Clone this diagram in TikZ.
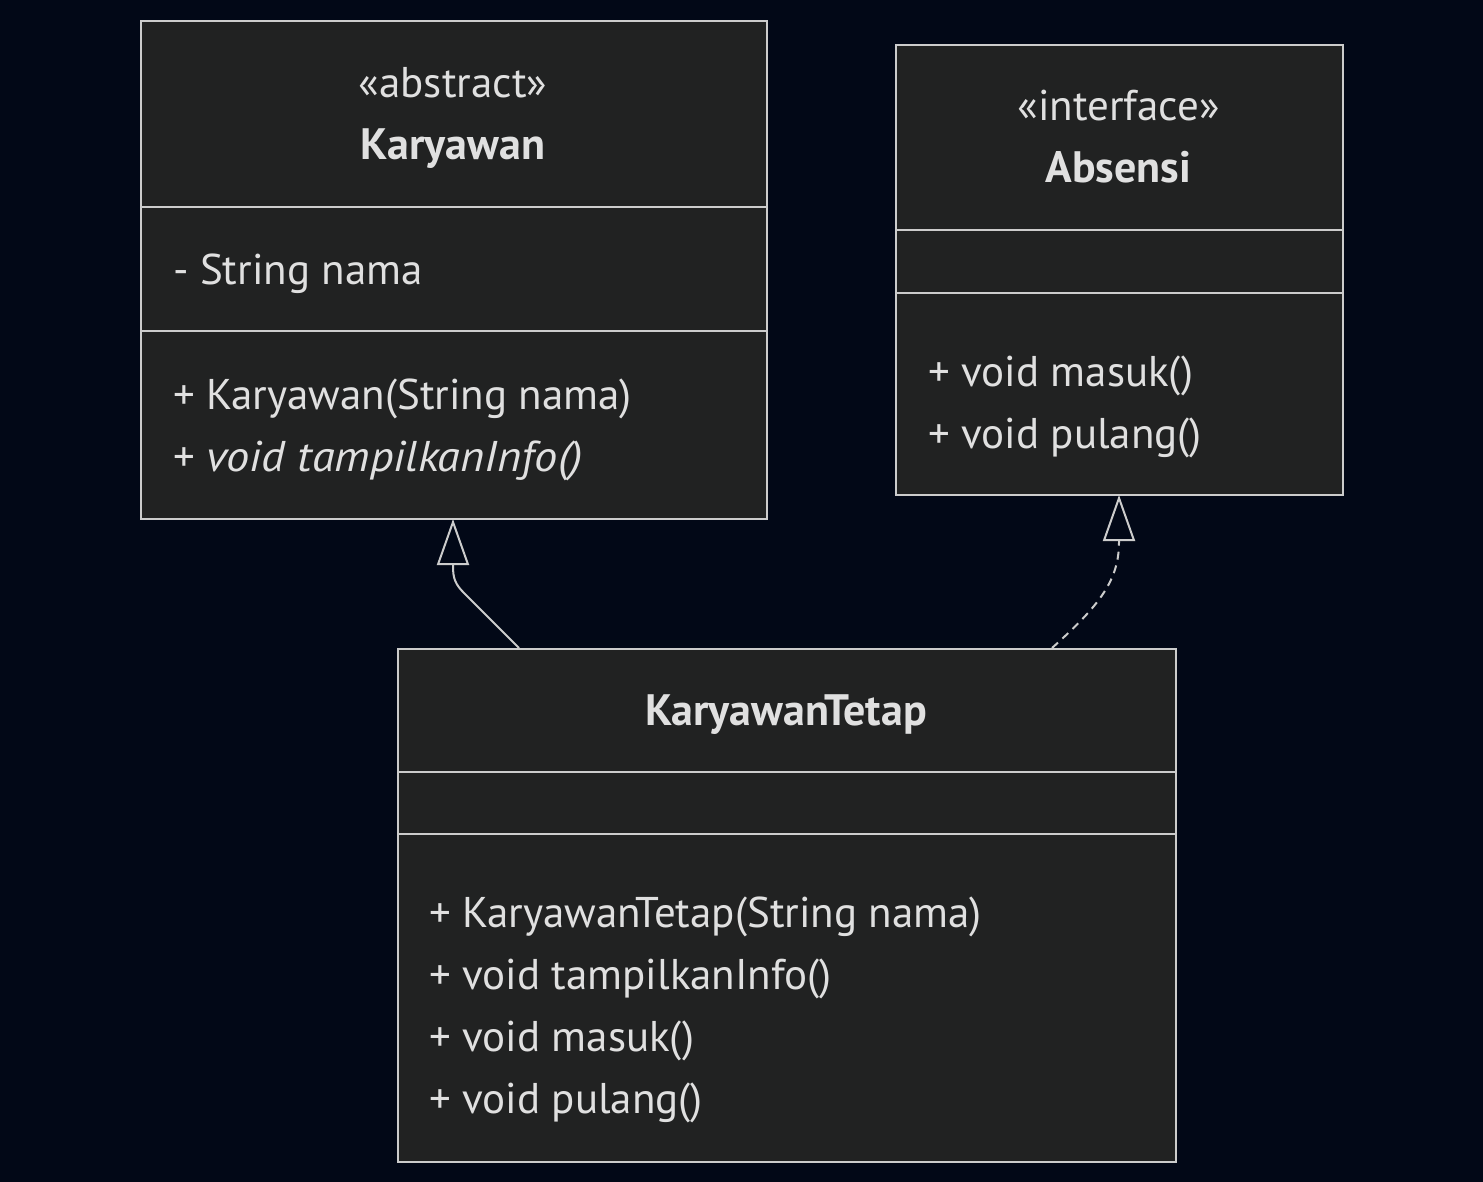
\documentclass[tikz,border=0pt]{standalone}
\usepackage{fontspec}
\setmainfont{PT Sans}
\usetikzlibrary{arrows.meta,calc}
\definecolor{bgc}{RGB}{2,8,23}
\definecolor{boxc}{RGB}{33,34,34}
\definecolor{linec}{RGB}{204,204,204}
\definecolor{txtc}{RGB}{224,224,224}
\tikzset{
  x=1pt, y=-1pt,
  classbox/.style={draw=linec, fill=boxc, line width=2pt, rectangle, inner sep=0pt, anchor=north west},
  divider/.style={draw=linec, line width=2pt},
  member/.style={text=txtc, anchor=base west, inner sep=0pt, font=\fontsize{43}{48}\selectfont},
  stereo/.style={text=txtc, anchor=base, inner sep=0pt, font=\fontsize{43}{48}\selectfont},
  cname/.style={text=txtc, anchor=base, inner sep=0pt, font=\fontsize{44}{48}\selectfont\bfseries},
  rel/.style={draw=linec, line width=2pt, -{Triangle[open,length=46pt,width=32pt,fill=bgc]}},
}
\begin{document}
\begin{tikzpicture}
\fill[bgc] (0,0) rectangle (1483,1182);
% Karyawan
\node[classbox, minimum width=626pt, minimum height=498pt] (kar) at (140,20) {};
\draw[divider] (140,207) -- (766,207);
\draw[divider] (140,331) -- (766,331);
\node[stereo] (karst) at (453,98) {«abstract»};
\node[cname] (karn) at (453,160) {Karyawan};
\node[member] (kara1) at (173,285) {- String nama};
\node[member] (karm1) at (173,409) {+ Karyawan(String nama)};
\node[member] (karm2) at (173,471) {+ \textit{\scalebox{1.08}[1]{void tampilkanInfo()}}};
% Absensi
\node[classbox, minimum width=447pt, minimum height=450pt] (abs) at (895,44) {};
\draw[divider] (895,230) -- (1342,230);
\draw[divider] (895,293) -- (1342,293);
\node[stereo] (absst) at (1118.5,121) {«interface»};
\node[cname] (absn) at (1118.5,183) {Absensi};
\node[member] (absm1) at (928,386) {+ void masuk()};
\node[member] (absm2) at (928,448) {+ void pulang()};
% KaryawanTetap
\node[classbox, minimum width=778pt, minimum height=513pt] (kt) at (397,648) {};
\draw[divider] (397,772) -- (1175,772);
\draw[divider] (397,834) -- (1175,834);
\node[cname] (ktn) at (786,725) {KaryawanTetap};
\node[member] (ktm1) at (429,927) {+ KaryawanTetap(String nama)};
\node[member] (ktm2) at (429,989) {+ void tampilkanInfo()};
\node[member] (ktm3) at (429,1051) {+ void masuk()};
\node[member] (ktm4) at (429,1113) {+ void pulang()};
% connectors
\coordinate (ktA) at (519,648);
\coordinate (ktB) at (1052,648);
\coordinate (karS) at (453,519);
\coordinate (absS) at (1119,495);
\draw[rel] (ktA) -- (464,593) .. controls (455,584) and (453,578) .. (453,566) -- (karS);
\draw[rel, dash pattern=on 8pt off 6pt] (ktB) .. controls (1100,605) and (1119,580) .. (1119,542) -- (absS);
\end{tikzpicture}
\end{document}
